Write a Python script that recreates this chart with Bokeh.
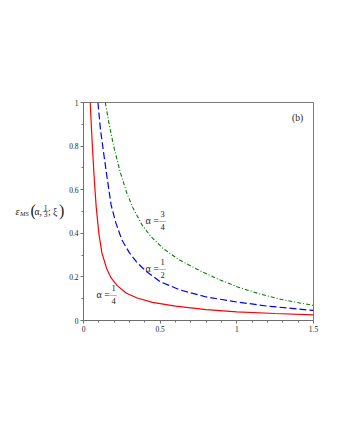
from bokeh.plotting import figure
from bokeh.layouts import row
from bokeh.models import Range1d, FixedTicker, CustomJSTickFormatter, Label
from bokeh.embed import file_html
from bokeh.resources import INLINE

# alpha = 1/4 (red, solid)
xi_q = [0.044, 0.052, 0.061, 0.071, 0.083, 0.10, 0.12, 0.15, 0.18, 0.22, 0.28, 0.35, 0.45, 0.60, 0.80, 1.00, 1.25, 1.50]
eps_q = [1.00, 0.88, 0.76, 0.64, 0.52, 0.40, 0.31, 0.24, 0.195, 0.16, 0.125, 0.103, 0.083, 0.066, 0.050, 0.040, 0.032, 0.026]
# alpha = 1/2 (blue, dashed)
xi_h = [0.094, 0.11, 0.133, 0.155, 0.18, 0.21, 0.25, 0.30, 0.35, 0.41, 0.50, 0.63, 0.80, 1.00, 1.20, 1.50]
eps_h = [1.00, 0.88, 0.76, 0.65, 0.53, 0.45, 0.37, 0.31, 0.265, 0.225, 0.178, 0.14, 0.108, 0.085, 0.066, 0.046]
# alpha = 3/4 (green, dash-dot)
xi_t = [0.142, 0.17, 0.20, 0.24, 0.28, 0.32, 0.38, 0.44, 0.52, 0.62, 0.74, 0.86, 1.00, 1.15, 1.30, 1.50]
eps_t = [1.00, 0.89, 0.79, 0.68, 0.59, 0.52, 0.44, 0.385, 0.33, 0.28, 0.235, 0.195, 0.155, 0.122, 0.095, 0.069]

x_ticks = [0, 0.5, 1, 1.5]
x_minor = [0.1, 0.2, 0.3, 0.4, 0.6, 0.7, 0.8, 0.9, 1.1, 1.2, 1.3, 1.4]
y_ticks = [0, 0.2, 0.4, 0.6, 0.8, 1]
y_minor = [0.1, 0.3, 0.5, 0.7, 0.9]

FONT = "'Liberation Serif', serif"
TXT = "#1a1a1a"

LEFT_W, H = 64, 430
# frame in page pixels: x 83..313, y 102..320
p = figure(width=330 - LEFT_W, height=H, output_backend="svg", toolbar_location=None,
           x_range=Range1d(0, 1.5), y_range=Range1d(0, 1),
           min_border_left=83 - LEFT_W, min_border_right=330 - 313,
           min_border_top=102, min_border_bottom=H - 320)
p.grid.visible = False
p.outline_line_color = "#7a7a7a"
p.outline_line_width = 1

fmt = CustomJSTickFormatter(code="return String(Math.round(tick*10)/10);")
for ax, t, m in ((p.xaxis, x_ticks, x_minor), (p.yaxis, y_ticks, y_minor)):
    ax.ticker = FixedTicker(ticks=t, minor_ticks=m)
    ax.formatter = fmt
    ax.axis_line_color = "#6e6e6e"
    ax.major_tick_line_color = "#6e6e6e"
    ax.minor_tick_line_color = "#6e6e6e"
    ax.major_tick_in = 0
    ax.major_tick_out = 3
    ax.minor_tick_in = 0
    ax.minor_tick_out = 2
    ax.major_label_text_font = FONT
    ax.major_label_text_font_size = "7.5px"
    ax.major_label_text_color = TXT
    ax.major_label_standoff = 2

p.line(xi_q, eps_q, line_color="#ff0000", line_width=1.2)
p.line(xi_h, eps_h, line_color="#0000ff", line_width=1.2, line_dash="7 3")
p.line(xi_t, eps_t, line_color="#008000", line_width=1.1, line_dash="4 2 1 2")

PX_PER_X = 230 / 1.5
PX_PER_Y = 218.0


def lab(fig, x, y, text, size="9px", align="center", style="normal"):
    fig.add_layout(Label(x=x, y=y, text=text, text_font=FONT,
                         text_font_size=size, text_align=align, text_baseline="middle",
                         text_font_style=style, text_color=TXT))


def lab_main(px, py, text, size="9px", align="center", style="normal"):
    lab(p, (px - 83) / PX_PER_X, (320 - py) / PX_PER_Y, text, size, align, style)


def alpha_label(px, py, num, den):
    lab_main(px, py, "α = ", "10px", "left")
    lab_main(px + 17, py - 7, num, "8.5px")
    lab_main(px + 17, py, "—", "7px")
    lab_main(px + 17, py + 6.5, den, "8.5px")


alpha_label(96, 294, "1", "4")
alpha_label(145, 268, "1", "2")
alpha_label(145, 220, "3", "4")

lab_main(297, 117, "(b)", "9.5px")
lab_main(205, 337, "ξ", "9.5px")

# left panel holding the y-axis label: eps_MS(alpha, 1/3; xi), page pixel coordinates
q = figure(width=LEFT_W, height=H, output_backend="svg", toolbar_location=None,
           x_range=Range1d(0, LEFT_W), y_range=Range1d(H, 0),
           min_border=0, x_axis_location=None, y_axis_location=None)
q.grid.visible = False
q.outline_line_color = None

lab(q, 15, 215, "ε", "10px", "left", "italic")
lab(q, 19.5, 218, "MS", "6.5px", "left", "italic")
lab(q, 30, 214, "(", "16px", "left")
lab(q, 34, 215, "α,", "9.5px", "left")
lab(q, 45, 209, "1", "7.5px")
lab(q, 45, 214, "—", "6px")
lab(q, 45, 219.5, "3", "7.5px")
lab(q, 47.5, 215, ";", "9.5px", "left")
lab(q, 52.5, 215, "ξ", "9.5px", "left")
lab(q, 58.5, 214, ")", "16px", "left")

layout = row(q, p, spacing=0)
open("out.html", "w").write(file_html(layout, INLINE))
